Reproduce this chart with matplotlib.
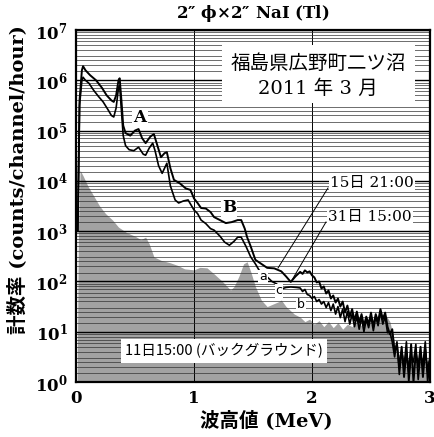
import numpy as np
import matplotlib
matplotlib.use("Agg")
import matplotlib.pyplot as plt
from matplotlib import ticker
from matplotlib.patches import Rectangle

plt.rcParams['font.family'] = ['DejaVu Serif', 'Noto Sans CJK JP']
plt.rcParams['mathtext.fontset'] = 'custom'
plt.rcParams['mathtext.bf'] = 'DejaVu Serif:bold'
plt.rcParams['mathtext.rm'] = 'DejaVu Serif'

# ---------------- data (energy in MeV, log10 of counts/channel/hour) ----------------
# Spectrum measured 15 March 21:00 (upper curve)
upper_x = [0.015, 0.03, 0.05, 0.06, 0.08, 0.12, 0.17, 0.22, 0.26, 0.30, 0.32, 0.34, 0.36, 0.37,
           0.385, 0.40, 0.42, 0.46, 0.50, 0.53, 0.56, 0.59, 0.63, 0.66, 0.69, 0.72, 0.75, 0.77,
           0.80, 0.83, 0.88, 0.93, 0.97, 1.00, 1.03, 1.06, 1.10, 1.14, 1.17, 1.22, 1.27, 1.32,
           1.37, 1.40, 1.43, 1.45, 1.48, 1.52, 1.57, 1.62, 1.68, 1.74, 1.78, 1.82, 1.86,
           1.90, 1.92, 1.94, 1.96, 1.98, 2.00, 2.02, 2.04, 2.06, 2.08, 2.10, 2.12, 2.14, 2.16,
           2.18, 2.20, 2.22, 2.24, 2.26, 2.28, 2.30, 2.32, 2.34, 2.36, 2.38, 2.40, 2.42, 2.44,
           2.46, 2.48, 2.50, 2.52, 2.54, 2.56, 2.58, 2.60, 2.62, 2.64, 2.66, 2.68, 2.70, 2.72,
           2.74, 2.76, 2.78, 2.80, 2.82, 2.84, 2.86, 2.88, 2.90, 2.92, 2.94, 2.96, 2.98, 3.00]
upper_log = [3.0, 5.6, 6.2, 6.28, 6.2, 6.1, 6.0, 5.85, 5.7, 5.6, 5.57, 5.7, 6.0, 6.04,
             5.6, 5.1, 4.95, 4.9, 5.0, 5.03, 4.85, 4.75, 4.88, 4.93, 4.7, 4.47, 4.55, 4.57,
             4.25, 4.02, 3.95, 3.85, 3.82, 3.65, 3.56, 3.46, 3.45, 3.38, 3.28, 3.22, 3.16, 3.18,
             3.22, 3.22, 3.05, 2.88, 2.7, 2.43, 2.35, 2.27, 2.26, 2.2, 2.1, 1.99, 2.1,
             2.19, 2.15, 2.22, 2.18, 2.2, 2.12, 2.08, 1.98, 2.0, 1.86, 1.9, 1.76, 1.82, 1.66,
             1.72, 1.58, 1.66, 1.5, 1.6, 1.38, 1.52, 1.3, 1.45, 1.22, 1.4, 1.18, 1.35, 1.12,
             1.3, 1.15, 1.38, 1.1, 1.35, 1.2, 1.45, 1.25, 1.38, 1.1, 0.95, 1.05, 0.6, 0.75,
             0.3, 0.7, 0.1, 0.6, 0.2, 0.75, 0.0, 0.6, 0.3, 0.7, 0.1, 0.65, 0.2, 0.5]

# Spectrum measured 31 March 15:00 (lower curve)
lower_x = [0.015, 0.03, 0.05, 0.06, 0.08, 0.11, 0.15, 0.19, 0.23, 0.27, 0.30, 0.32, 0.34, 0.36,
           0.37, 0.385, 0.40, 0.42, 0.45, 0.49, 0.53, 0.57, 0.59, 0.62, 0.65, 0.67, 0.70, 0.73,
           0.77, 0.80, 0.84, 0.87, 0.91, 0.95, 1.00, 1.03, 1.06, 1.10, 1.14, 1.17, 1.22, 1.26,
           1.30, 1.34, 1.37, 1.40, 1.44, 1.48, 1.52, 1.55, 1.58, 1.62, 1.66, 1.70, 1.74, 1.78,
           1.82, 1.87,
           1.90, 1.92, 1.94, 1.96, 1.98, 2.00, 2.02, 2.04, 2.06, 2.08, 2.10, 2.12, 2.14, 2.16,
           2.18, 2.20, 2.22, 2.24, 2.26, 2.28, 2.30, 2.32, 2.34, 2.36, 2.38, 2.40, 2.42, 2.44,
           2.46, 2.48, 2.50, 2.52, 2.54, 2.56, 2.58, 2.60, 2.62, 2.64, 2.66, 2.68, 2.70, 2.72,
           2.74, 2.76, 2.78, 2.80, 2.82, 2.84, 2.86, 2.88, 2.90, 2.92, 2.94, 2.96, 2.98, 3.00]
lower_log = [3.0, 5.5, 6.0, 6.06, 6.0, 5.94, 5.8, 5.68, 5.57, 5.42, 5.3, 5.27, 5.45, 5.85,
             5.9, 5.4, 4.9, 4.7, 4.62, 4.6, 4.67, 4.53, 4.51, 4.65, 4.75, 4.6, 4.3, 4.15,
             4.35, 3.9, 3.62, 3.56, 3.6, 3.62, 3.42, 3.35, 3.22, 3.15, 3.05, 3.02, 2.9, 2.78,
             2.72, 2.8, 2.88, 2.88, 2.7, 2.49, 2.35, 2.23, 2.15, 2.09, 2.0, 1.95, 1.85, 1.88,
             1.89, 1.88,
             1.87, 1.8, 1.84, 1.74, 1.72, 1.66, 1.7, 1.6, 1.64, 1.55, 1.6, 1.48, 1.58, 1.42,
             1.55, 1.35, 1.5, 1.28, 1.45, 1.2, 1.4, 1.15, 1.35, 1.1, 1.3, 1.05, 1.28, 1.0,
             1.25, 1.08, 1.3, 1.02, 1.3, 1.12, 1.4, 1.15, 1.3, 0.98, 1.0, 0.8, 0.5, 0.8,
             0.15, 0.6, 0.3, 0.8, 0.0, 0.5, 0.4, 0.75, 0.05, 0.55, 0.35, 0.8, 0.0, 0.45]

# Background measured 11 March 15:00 (grey area)
bg_x = [0.01, 0.02, 0.035, 0.06, 0.10, 0.15, 0.20, 0.25, 0.31, 0.36, 0.43, 0.50, 0.55, 0.59,
        0.62, 0.66, 0.72, 0.80, 0.86, 0.92, 1.00, 1.05, 1.11, 1.17, 1.24, 1.31, 1.34, 1.38,
        1.42, 1.45, 1.48, 1.52, 1.57, 1.62, 1.67, 1.72, 1.74, 1.78, 1.85,
        1.90, 1.94, 1.98, 2.02, 2.06, 2.10, 2.14, 2.18, 2.22, 2.26, 2.30, 2.34, 2.38, 2.42,
        2.46, 2.50, 2.54, 2.58, 2.62, 2.66, 2.69, 2.72, 2.76, 2.80, 2.84, 2.88, 2.92, 2.96, 3.00]
bg_log = [0.0, 3.0, 4.21, 4.1, 3.9, 3.7, 3.5, 3.35, 3.22, 3.08, 2.97, 2.9, 2.83, 2.88,
          2.75, 2.49, 2.42, 2.37, 2.32, 2.25, 2.23, 2.28, 2.27, 2.15, 2.0, 1.83, 1.9, 2.1,
          2.35, 2.39, 2.2, 1.9, 1.63, 1.5, 1.55, 1.6, 1.63, 1.5, 1.35,
          1.29, 1.2, 1.25, 1.15, 1.22, 1.1, 1.2, 1.08, 1.18, 1.05, 1.15, 1.1, 1.2, 1.12,
          1.22, 1.15, 1.25, 1.3, 1.35, 1.2, 0.9, 0.5, 0.6, 0.4, 0.55, 0.35, 0.5, 0.4, 0.45]

# ---------------- figure ----------------
W, H = 435, 437
fig = plt.figure(figsize=(W / 100, H / 100), dpi=100)
L, R, T, B = 76, 430, 30, 382
ax = fig.add_axes([L / W, 1 - B / H, (R - L) / W, (B - T) / H])

ax.fill_between(bg_x, np.power(10.0, bg_log), 1, color='#a2a2a2', lw=0, zorder=1)
ax.plot(upper_x, np.power(10.0, upper_log), color='black', lw=1.4, zorder=3)
ax.plot(lower_x, np.power(10.0, lower_log), color='black', lw=1.2, zorder=3)

ax.set_yscale('log')
ax.set_xlim(0, 3)
ax.set_ylim(1, 1e7)
ax.set_axisbelow(False)

ax.set_xticks([0, 1, 2, 3])
ax.set_xticklabels(['0', '1', '2', '3'], fontweight='bold', fontsize=12)
ax.yaxis.set_major_locator(ticker.LogLocator(base=10, numticks=12))
ax.yaxis.set_major_formatter(ticker.FuncFormatter(
    lambda v, p: r'$\mathbf{10^{%d}}$' % int(round(np.log10(v)))))
ax.yaxis.set_minor_locator(ticker.LogLocator(
    base=10, subs=[1.5, 2, 2.5, 3, 4, 5, 6, 7, 8, 9], numticks=12))
ax.yaxis.set_minor_formatter(ticker.NullFormatter())
ax.tick_params(axis='both', which='both', length=0)
ax.tick_params(axis='y', labelsize=12, pad=6)
ax.tick_params(axis='x', pad=6)

ax.grid(True, which='major', axis='y', color='black', lw=1.0, zorder=2)
ax.grid(True, which='minor', axis='y', color='#333333', lw=0.5, zorder=2)
ax.grid(True, which='major', axis='x', color='black', lw=0.7, zorder=2)
for s in ax.spines.values():
    s.set_linewidth(1.6)
    s.set_zorder(5)


def px(xp, yp):
    return (xp - L) / (R - L) * 3.0, 10 ** ((B - yp) / (B - T) * 7.0)


# location box
x0, y0 = px(222, 103)
x1, y1 = px(415, 45)
ax.add_patch(Rectangle((x0, y0), x1 - x0, y1 - y0, facecolor='white', edgecolor='none', zorder=4))
ax.text(*px(318, 63), '福島県広野町二ツ沼', ha='center', va='center', fontsize=14, zorder=6,
        family=['Noto Sans CJK JP'])
ax.text(*px(318, 89), '2011 年 3 月', ha='center', va='center', fontsize=14, zorder=6,
        family=['DejaVu Serif', 'Noto Sans CJK JP'])

wb = dict(facecolor='white', edgecolor='none', pad=1.0)
ax.text(*px(330, 183), '15日 21:00', ha='left', va='center', fontsize=11, zorder=6,
        family=['DejaVu Serif', 'Noto Sans CJK JP'], bbox=wb)
ax.text(*px(328, 217), '31日 15:00', ha='left', va='center', fontsize=11, zorder=6,
        family=['DejaVu Serif', 'Noto Sans CJK JP'], bbox=wb)
ax.plot(*zip(px(328, 188), px(278, 268)), color='black', lw=0.7, zorder=6)
ax.plot(*zip(px(326, 222), px(292, 280)), color='black', lw=0.7, zorder=6)

ax.text(*px(140, 118), 'A', ha='center', va='center', fontsize=12, fontweight='bold', zorder=6, bbox=wb)
ax.text(*px(229, 208), 'B', ha='center', va='center', fontsize=12, fontweight='bold', zorder=6, bbox=wb)
sb = dict(facecolor='white', edgecolor='none', pad=0.5)
ax.text(*px(263, 277), 'a', ha='center', va='center', fontsize=9, zorder=6,
        family=['DejaVu Sans'], bbox=sb)
ax.text(*px(279, 291), 'c', ha='center', va='center', fontsize=9, zorder=6,
        family=['DejaVu Sans'], bbox=sb)
ax.text(*px(301, 305), 'b', ha='center', va='center', fontsize=9, zorder=6,
        family=['DejaVu Sans'], bbox=sb)

ax.text(*px(224, 351), '11日15:00 (バックグラウンド)', ha='center', va='center', fontsize=10.5,
        zorder=6, family=['Noto Sans CJK JP'],
        bbox=dict(facecolor='white', edgecolor='none', pad=3))

# title and axis labels
fig.text(253 / W, 1 - 13 / H, '2″ $\\mathbf{\\phi}$×2″ NaI (Tl)', ha='center', va='center',
         fontsize=12, fontweight='bold')
fig.text(266 / W, 1 - 420 / H, '波高値 (MeV)', ha='center', va='center', fontsize=14,
         fontweight='bold', family=['DejaVu Serif', 'Noto Sans CJK JP'])
fig.text(17 / W, 1 - 180 / H, '計数率 (counts/channel/hour)', ha='center', va='center',
         rotation=90, fontsize=14, fontweight='bold', family=['DejaVu Serif', 'Noto Sans CJK JP'])

fig.savefig('out.png', dpi=100, facecolor='white')
